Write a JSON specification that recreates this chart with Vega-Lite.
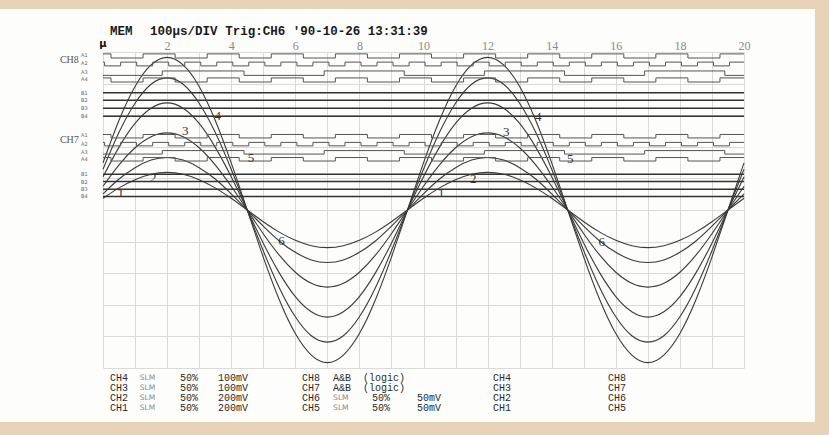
{
  "$schema": "https://vega.github.io/schema/vega-lite/v6.json",
  "width": 641,
  "height": 316,
  "autosize": {"type": "none"},
  "padding": {"left": 103, "top": 52, "right": 85, "bottom": 67},
  "background": "#fdfdfb",
  "config": {"view": {"stroke": null}},
  "resolve": {"axis": {"x": "independent", "y": "independent"}},
  "datasets": {
    "sine": [
      {"s":1,"x":0,"y":0.37},{"s":1,"x":0.5,"y":0.7},{"s":1,"x":1,"y":0.96},{"s":1,"x":1.5,"y":1.13},{"s":1,"x":2,"y":1.19},{"s":1,"x":2.5,"y":1.13},{"s":1,"x":3,"y":0.96},{"s":1,"x":3.5,"y":0.7},{"s":1,"x":4,"y":0.37},{"s":1,"x":4.5,"y":0},{"s":1,"x":5,"y":-0.37},{"s":1,"x":5.5,"y":-0.7},{"s":1,"x":6,"y":-0.96},{"s":1,"x":6.5,"y":-1.13},{"s":1,"x":7,"y":-1.19},{"s":1,"x":7.5,"y":-1.13},{"s":1,"x":8,"y":-0.96},{"s":1,"x":8.5,"y":-0.7},{"s":1,"x":9,"y":-0.37},{"s":1,"x":9.5,"y":0},
      {"s":1,"x":10,"y":0.37},{"s":1,"x":10.5,"y":0.7},{"s":1,"x":11,"y":0.96},{"s":1,"x":11.5,"y":1.13},{"s":1,"x":12,"y":1.19},{"s":1,"x":12.5,"y":1.13},{"s":1,"x":13,"y":0.96},{"s":1,"x":13.5,"y":0.7},{"s":1,"x":14,"y":0.37},{"s":1,"x":14.5,"y":0},{"s":1,"x":15,"y":-0.37},{"s":1,"x":15.5,"y":-0.7},{"s":1,"x":16,"y":-0.96},{"s":1,"x":16.5,"y":-1.13},{"s":1,"x":17,"y":-1.19},{"s":1,"x":17.5,"y":-1.13},{"s":1,"x":18,"y":-0.96},{"s":1,"x":18.5,"y":-0.7},{"s":1,"x":19,"y":-0.37},{"s":1,"x":19.5,"y":0},{"s":1,"x":20,"y":0.37},
      {"s":2,"x":0,"y":0.51},{"s":2,"x":0.5,"y":0.98},{"s":2,"x":1,"y":1.34},{"s":2,"x":1.5,"y":1.58},{"s":2,"x":2,"y":1.66},{"s":2,"x":2.5,"y":1.58},{"s":2,"x":3,"y":1.34},{"s":2,"x":3.5,"y":0.98},{"s":2,"x":4,"y":0.51},{"s":2,"x":4.5,"y":0},{"s":2,"x":5,"y":-0.51},{"s":2,"x":5.5,"y":-0.98},{"s":2,"x":6,"y":-1.34},{"s":2,"x":6.5,"y":-1.58},{"s":2,"x":7,"y":-1.66},{"s":2,"x":7.5,"y":-1.58},{"s":2,"x":8,"y":-1.34},{"s":2,"x":8.5,"y":-0.98},{"s":2,"x":9,"y":-0.51},{"s":2,"x":9.5,"y":0},
      {"s":2,"x":10,"y":0.51},{"s":2,"x":10.5,"y":0.98},{"s":2,"x":11,"y":1.34},{"s":2,"x":11.5,"y":1.58},{"s":2,"x":12,"y":1.66},{"s":2,"x":12.5,"y":1.58},{"s":2,"x":13,"y":1.34},{"s":2,"x":13.5,"y":0.98},{"s":2,"x":14,"y":0.51},{"s":2,"x":14.5,"y":0},{"s":2,"x":15,"y":-0.51},{"s":2,"x":15.5,"y":-0.98},{"s":2,"x":16,"y":-1.34},{"s":2,"x":16.5,"y":-1.58},{"s":2,"x":17,"y":-1.66},{"s":2,"x":17.5,"y":-1.58},{"s":2,"x":18,"y":-1.34},{"s":2,"x":18.5,"y":-0.98},{"s":2,"x":19,"y":-0.51},{"s":2,"x":19.5,"y":0},{"s":2,"x":20,"y":0.51},
      {"s":3,"x":0,"y":0.75},{"s":3,"x":0.5,"y":1.43},{"s":3,"x":1,"y":1.97},{"s":3,"x":1.5,"y":2.32},{"s":3,"x":2,"y":2.44},{"s":3,"x":2.5,"y":2.32},{"s":3,"x":3,"y":1.97},{"s":3,"x":3.5,"y":1.43},{"s":3,"x":4,"y":0.75},{"s":3,"x":4.5,"y":0},{"s":3,"x":5,"y":-0.75},{"s":3,"x":5.5,"y":-1.43},{"s":3,"x":6,"y":-1.97},{"s":3,"x":6.5,"y":-2.32},{"s":3,"x":7,"y":-2.44},{"s":3,"x":7.5,"y":-2.32},{"s":3,"x":8,"y":-1.97},{"s":3,"x":8.5,"y":-1.43},{"s":3,"x":9,"y":-0.75},{"s":3,"x":9.5,"y":0},
      {"s":3,"x":10,"y":0.75},{"s":3,"x":10.5,"y":1.43},{"s":3,"x":11,"y":1.97},{"s":3,"x":11.5,"y":2.32},{"s":3,"x":12,"y":2.44},{"s":3,"x":12.5,"y":2.32},{"s":3,"x":13,"y":1.97},{"s":3,"x":13.5,"y":1.43},{"s":3,"x":14,"y":0.75},{"s":3,"x":14.5,"y":0},{"s":3,"x":15,"y":-0.75},{"s":3,"x":15.5,"y":-1.43},{"s":3,"x":16,"y":-1.97},{"s":3,"x":16.5,"y":-2.32},{"s":3,"x":17,"y":-2.44},{"s":3,"x":17.5,"y":-2.32},{"s":3,"x":18,"y":-1.97},{"s":3,"x":18.5,"y":-1.43},{"s":3,"x":19,"y":-0.75},{"s":3,"x":19.5,"y":0},{"s":3,"x":20,"y":0.75},
      {"s":4,"x":0,"y":1.05},{"s":4,"x":0.5,"y":1.99},{"s":4,"x":1,"y":2.74},{"s":4,"x":1.5,"y":3.22},{"s":4,"x":2,"y":3.39},{"s":4,"x":2.5,"y":3.22},{"s":4,"x":3,"y":2.74},{"s":4,"x":3.5,"y":1.99},{"s":4,"x":4,"y":1.05},{"s":4,"x":4.5,"y":0},{"s":4,"x":5,"y":-1.05},{"s":4,"x":5.5,"y":-1.99},{"s":4,"x":6,"y":-2.74},{"s":4,"x":6.5,"y":-3.22},{"s":4,"x":7,"y":-3.39},{"s":4,"x":7.5,"y":-3.22},{"s":4,"x":8,"y":-2.74},{"s":4,"x":8.5,"y":-1.99},{"s":4,"x":9,"y":-1.05},{"s":4,"x":9.5,"y":0},
      {"s":4,"x":10,"y":1.05},{"s":4,"x":10.5,"y":1.99},{"s":4,"x":11,"y":2.74},{"s":4,"x":11.5,"y":3.22},{"s":4,"x":12,"y":3.39},{"s":4,"x":12.5,"y":3.22},{"s":4,"x":13,"y":2.74},{"s":4,"x":13.5,"y":1.99},{"s":4,"x":14,"y":1.05},{"s":4,"x":14.5,"y":0},{"s":4,"x":15,"y":-1.05},{"s":4,"x":15.5,"y":-1.99},{"s":4,"x":16,"y":-2.74},{"s":4,"x":16.5,"y":-3.22},{"s":4,"x":17,"y":-3.39},{"s":4,"x":17.5,"y":-3.22},{"s":4,"x":18,"y":-2.74},{"s":4,"x":18.5,"y":-1.99},{"s":4,"x":19,"y":-1.05},{"s":4,"x":19.5,"y":0},{"s":4,"x":20,"y":1.05},
      {"s":5,"x":0,"y":1.29},{"s":5,"x":0.5,"y":2.46},{"s":5,"x":1,"y":3.38},{"s":5,"x":1.5,"y":3.98},{"s":5,"x":2,"y":4.18},{"s":5,"x":2.5,"y":3.98},{"s":5,"x":3,"y":3.38},{"s":5,"x":3.5,"y":2.46},{"s":5,"x":4,"y":1.29},{"s":5,"x":4.5,"y":0},{"s":5,"x":5,"y":-1.29},{"s":5,"x":5.5,"y":-2.46},{"s":5,"x":6,"y":-3.38},{"s":5,"x":6.5,"y":-3.98},{"s":5,"x":7,"y":-4.18},{"s":5,"x":7.5,"y":-3.98},{"s":5,"x":8,"y":-3.38},{"s":5,"x":8.5,"y":-2.46},{"s":5,"x":9,"y":-1.29},{"s":5,"x":9.5,"y":0},
      {"s":5,"x":10,"y":1.29},{"s":5,"x":10.5,"y":2.46},{"s":5,"x":11,"y":3.38},{"s":5,"x":11.5,"y":3.98},{"s":5,"x":12,"y":4.18},{"s":5,"x":12.5,"y":3.98},{"s":5,"x":13,"y":3.38},{"s":5,"x":13.5,"y":2.46},{"s":5,"x":14,"y":1.29},{"s":5,"x":14.5,"y":0},{"s":5,"x":15,"y":-1.29},{"s":5,"x":15.5,"y":-2.46},{"s":5,"x":16,"y":-3.38},{"s":5,"x":16.5,"y":-3.98},{"s":5,"x":17,"y":-4.18},{"s":5,"x":17.5,"y":-3.98},{"s":5,"x":18,"y":-3.38},{"s":5,"x":18.5,"y":-2.46},{"s":5,"x":19,"y":-1.29},{"s":5,"x":19.5,"y":0},{"s":5,"x":20,"y":1.29},
      {"s":6,"x":0,"y":1.49},{"s":6,"x":0.5,"y":2.84},{"s":6,"x":1,"y":3.91},{"s":6,"x":1.5,"y":4.59},{"s":6,"x":2,"y":4.83},{"s":6,"x":2.5,"y":4.59},{"s":6,"x":3,"y":3.91},{"s":6,"x":3.5,"y":2.84},{"s":6,"x":4,"y":1.49},{"s":6,"x":4.5,"y":0},{"s":6,"x":5,"y":-1.49},{"s":6,"x":5.5,"y":-2.84},{"s":6,"x":6,"y":-3.91},{"s":6,"x":6.5,"y":-4.59},{"s":6,"x":7,"y":-4.83},{"s":6,"x":7.5,"y":-4.59},{"s":6,"x":8,"y":-3.91},{"s":6,"x":8.5,"y":-2.84},{"s":6,"x":9,"y":-1.49},{"s":6,"x":9.5,"y":0},
      {"s":6,"x":10,"y":1.49},{"s":6,"x":10.5,"y":2.84},{"s":6,"x":11,"y":3.91},{"s":6,"x":11.5,"y":4.59},{"s":6,"x":12,"y":4.83},{"s":6,"x":12.5,"y":4.59},{"s":6,"x":13,"y":3.91},{"s":6,"x":13.5,"y":2.84},{"s":6,"x":14,"y":1.49},{"s":6,"x":14.5,"y":0},{"s":6,"x":15,"y":-1.49},{"s":6,"x":15.5,"y":-2.84},{"s":6,"x":16,"y":-3.91},{"s":6,"x":16.5,"y":-4.59},{"s":6,"x":17,"y":-4.83},{"s":6,"x":17.5,"y":-4.59},{"s":6,"x":18,"y":-3.91},{"s":6,"x":18.5,"y":-2.84},{"s":6,"x":19,"y":-1.49},{"s":6,"x":19.5,"y":0},{"s":6,"x":20,"y":1.49}
    ],
    "logic": [
      {"t":"8A1","x":0,"y":4.94},{"t":"8A1","x":0.25,"y":4.81},{"t":"8A1","x":1.25,"y":4.94},{"t":"8A1","x":2.25,"y":4.81},{"t":"8A1","x":3.25,"y":4.94},{"t":"8A1","x":4.25,"y":4.81},{"t":"8A1","x":5.25,"y":4.94},{"t":"8A1","x":6.25,"y":4.81},{"t":"8A1","x":7.25,"y":4.94},{"t":"8A1","x":8.25,"y":4.81},{"t":"8A1","x":9.25,"y":4.94},{"t":"8A1","x":10.25,"y":4.81},{"t":"8A1","x":11.25,"y":4.94},{"t":"8A1","x":12.25,"y":4.81},{"t":"8A1","x":13.25,"y":4.94},{"t":"8A1","x":14.25,"y":4.81},{"t":"8A1","x":15.25,"y":4.94},{"t":"8A1","x":16.25,"y":4.81},{"t":"8A1","x":17.25,"y":4.94},{"t":"8A1","x":18.25,"y":4.81},{"t":"8A1","x":19.25,"y":4.94},{"t":"8A1","x":20,"y":4.94},
      {"t":"8A2","x":0,"y":4.68},{"t":"8A2","x":0.05,"y":4.56},{"t":"8A2","x":0.55,"y":4.68},{"t":"8A2","x":1.05,"y":4.56},{"t":"8A2","x":1.55,"y":4.68},{"t":"8A2","x":2.05,"y":4.56},{"t":"8A2","x":2.55,"y":4.68},{"t":"8A2","x":3.05,"y":4.56},{"t":"8A2","x":3.55,"y":4.68},{"t":"8A2","x":4.05,"y":4.56},{"t":"8A2","x":4.55,"y":4.68},{"t":"8A2","x":5.05,"y":4.56},{"t":"8A2","x":5.55,"y":4.68},{"t":"8A2","x":6.05,"y":4.56},{"t":"8A2","x":6.55,"y":4.68},{"t":"8A2","x":7.05,"y":4.56},{"t":"8A2","x":7.55,"y":4.68},{"t":"8A2","x":8.05,"y":4.56},{"t":"8A2","x":8.55,"y":4.68},{"t":"8A2","x":9.05,"y":4.56},{"t":"8A2","x":9.55,"y":4.68},{"t":"8A2","x":10.05,"y":4.56},{"t":"8A2","x":10.55,"y":4.68},{"t":"8A2","x":11.05,"y":4.56},{"t":"8A2","x":11.55,"y":4.68},{"t":"8A2","x":12.05,"y":4.56},{"t":"8A2","x":12.55,"y":4.68},{"t":"8A2","x":13.05,"y":4.56},{"t":"8A2","x":13.55,"y":4.68},{"t":"8A2","x":14.05,"y":4.56},{"t":"8A2","x":14.55,"y":4.68},{"t":"8A2","x":15.05,"y":4.56},{"t":"8A2","x":15.55,"y":4.68},{"t":"8A2","x":16.05,"y":4.56},{"t":"8A2","x":16.55,"y":4.68},{"t":"8A2","x":17.05,"y":4.56},{"t":"8A2","x":17.55,"y":4.68},{"t":"8A2","x":18.05,"y":4.56},{"t":"8A2","x":18.55,"y":4.68},{"t":"8A2","x":19.05,"y":4.56},{"t":"8A2","x":19.55,"y":4.68},{"t":"8A2","x":20,"y":4.68},
      {"t":"8A3","x":0,"y":4.26},{"t":"8A3","x":1.85,"y":4.4},{"t":"8A3","x":4.4,"y":4.26},{"t":"8A3","x":6.9,"y":4.4},{"t":"8A3","x":9.4,"y":4.26},{"t":"8A3","x":11.9,"y":4.4},{"t":"8A3","x":14.4,"y":4.26},{"t":"8A3","x":16.9,"y":4.4},{"t":"8A3","x":19.4,"y":4.26},{"t":"8A3","x":20,"y":4.26},
      {"t":"8A4","x":0,"y":4.18},{"t":"8A4","x":0.25,"y":4.05},{"t":"8A4","x":1.25,"y":4.18},{"t":"8A4","x":2.25,"y":4.05},{"t":"8A4","x":3.25,"y":4.18},{"t":"8A4","x":4.25,"y":4.05},{"t":"8A4","x":5.25,"y":4.18},{"t":"8A4","x":6.25,"y":4.05},{"t":"8A4","x":7.25,"y":4.18},{"t":"8A4","x":8.25,"y":4.05},{"t":"8A4","x":9.25,"y":4.18},{"t":"8A4","x":10.25,"y":4.05},{"t":"8A4","x":11.25,"y":4.18},{"t":"8A4","x":12.25,"y":4.05},{"t":"8A4","x":13.25,"y":4.18},{"t":"8A4","x":14.25,"y":4.05},{"t":"8A4","x":15.25,"y":4.18},{"t":"8A4","x":16.25,"y":4.05},{"t":"8A4","x":17.25,"y":4.18},{"t":"8A4","x":18.25,"y":4.05},{"t":"8A4","x":19.25,"y":4.18},{"t":"8A4","x":20,"y":4.18},
      {"t":"7A1","x":0,"y":2.39},{"t":"7A1","x":0.25,"y":2.28},{"t":"7A1","x":1.25,"y":2.39},{"t":"7A1","x":2.25,"y":2.28},{"t":"7A1","x":3.25,"y":2.39},{"t":"7A1","x":4.25,"y":2.28},{"t":"7A1","x":5.25,"y":2.39},{"t":"7A1","x":6.25,"y":2.28},{"t":"7A1","x":7.25,"y":2.39},{"t":"7A1","x":8.25,"y":2.28},{"t":"7A1","x":9.25,"y":2.39},{"t":"7A1","x":10.25,"y":2.28},{"t":"7A1","x":11.25,"y":2.39},{"t":"7A1","x":12.25,"y":2.28},{"t":"7A1","x":13.25,"y":2.39},{"t":"7A1","x":14.25,"y":2.28},{"t":"7A1","x":15.25,"y":2.39},{"t":"7A1","x":16.25,"y":2.28},{"t":"7A1","x":17.25,"y":2.39},{"t":"7A1","x":18.25,"y":2.28},{"t":"7A1","x":19.25,"y":2.39},{"t":"7A1","x":20,"y":2.39},
      {"t":"7A2","x":0,"y":2.14},{"t":"7A2","x":0.05,"y":2.03},{"t":"7A2","x":0.55,"y":2.14},{"t":"7A2","x":1.05,"y":2.03},{"t":"7A2","x":1.55,"y":2.14},{"t":"7A2","x":2.05,"y":2.03},{"t":"7A2","x":2.55,"y":2.14},{"t":"7A2","x":3.05,"y":2.03},{"t":"7A2","x":3.55,"y":2.14},{"t":"7A2","x":4.05,"y":2.03},{"t":"7A2","x":4.55,"y":2.14},{"t":"7A2","x":5.05,"y":2.03},{"t":"7A2","x":5.55,"y":2.14},{"t":"7A2","x":6.05,"y":2.03},{"t":"7A2","x":6.55,"y":2.14},{"t":"7A2","x":7.05,"y":2.03},{"t":"7A2","x":7.55,"y":2.14},{"t":"7A2","x":8.05,"y":2.03},{"t":"7A2","x":8.55,"y":2.14},{"t":"7A2","x":9.05,"y":2.03},{"t":"7A2","x":9.55,"y":2.14},{"t":"7A2","x":10.05,"y":2.03},{"t":"7A2","x":10.55,"y":2.14},{"t":"7A2","x":11.05,"y":2.03},{"t":"7A2","x":11.55,"y":2.14},{"t":"7A2","x":12.05,"y":2.03},{"t":"7A2","x":12.55,"y":2.14},{"t":"7A2","x":13.05,"y":2.03},{"t":"7A2","x":13.55,"y":2.14},{"t":"7A2","x":14.05,"y":2.03},{"t":"7A2","x":14.55,"y":2.14},{"t":"7A2","x":15.05,"y":2.03},{"t":"7A2","x":15.55,"y":2.14},{"t":"7A2","x":16.05,"y":2.03},{"t":"7A2","x":16.55,"y":2.14},{"t":"7A2","x":17.05,"y":2.03},{"t":"7A2","x":17.55,"y":2.14},{"t":"7A2","x":18.05,"y":2.03},{"t":"7A2","x":18.55,"y":2.14},{"t":"7A2","x":19.05,"y":2.03},{"t":"7A2","x":19.55,"y":2.14},{"t":"7A2","x":20,"y":2.14},
      {"t":"7A3","x":0,"y":1.77},{"t":"7A3","x":1.85,"y":1.88},{"t":"7A3","x":4.4,"y":1.77},{"t":"7A3","x":6.9,"y":1.88},{"t":"7A3","x":9.4,"y":1.77},{"t":"7A3","x":11.9,"y":1.88},{"t":"7A3","x":14.4,"y":1.77},{"t":"7A3","x":16.9,"y":1.88},{"t":"7A3","x":19.4,"y":1.77},{"t":"7A3","x":20,"y":1.77},
      {"t":"7A4","x":0,"y":1.66},{"t":"7A4","x":0.25,"y":1.55},{"t":"7A4","x":1.25,"y":1.66},{"t":"7A4","x":2.25,"y":1.55},{"t":"7A4","x":3.25,"y":1.66},{"t":"7A4","x":4.25,"y":1.55},{"t":"7A4","x":5.25,"y":1.66},{"t":"7A4","x":6.25,"y":1.55},{"t":"7A4","x":7.25,"y":1.66},{"t":"7A4","x":8.25,"y":1.55},{"t":"7A4","x":9.25,"y":1.66},{"t":"7A4","x":10.25,"y":1.55},{"t":"7A4","x":11.25,"y":1.66},{"t":"7A4","x":12.25,"y":1.55},{"t":"7A4","x":13.25,"y":1.66},{"t":"7A4","x":14.25,"y":1.55},{"t":"7A4","x":15.25,"y":1.66},{"t":"7A4","x":16.25,"y":1.55},{"t":"7A4","x":17.25,"y":1.66},{"t":"7A4","x":18.25,"y":1.55},{"t":"7A4","x":19.25,"y":1.66},{"t":"7A4","x":20,"y":1.66}
    ],
    "flat": [
      {"t":"8B1","x":0,"y":3.71},{"t":"8B1","x":20,"y":3.71},
      {"t":"8B2","x":0,"y":3.47},{"t":"8B2","x":20,"y":3.47},
      {"t":"8B3","x":0,"y":3.22},{"t":"8B3","x":20,"y":3.22},
      {"t":"8B4","x":0,"y":2.97},{"t":"8B4","x":20,"y":2.97},
      {"t":"7B1","x":0,"y":1.13},{"t":"7B1","x":20,"y":1.13},
      {"t":"7B2","x":0,"y":0.9},{"t":"7B2","x":20,"y":0.9},
      {"t":"7B3","x":0,"y":0.66},{"t":"7B3","x":20,"y":0.66},
      {"t":"7B4","x":0,"y":0.43},{"t":"7B4","x":20,"y":0.43}
    ],
    "curvelabels": [
      {"txt":"1","x":0.55,"y":0.54},{"txt":"2","x":1.57,"y":1.01},{"txt":"3","x":2.57,"y":2.5},{"txt":"4","x":3.58,"y":2.97},{"txt":"5","x":4.62,"y":1.65},{"txt":"6","x":5.57,"y":-0.98},
      {"txt":"1","x":10.55,"y":0.54},{"txt":"2","x":11.55,"y":0.97},{"txt":"3","x":12.58,"y":2.47},{"txt":"4","x":13.58,"y":2.94},{"txt":"5","x":14.58,"y":1.6},{"txt":"6","x":15.56,"y":-1.0}
    ],
    "chlabels": [
      {"txt":"CH8","x":-1.05,"y":4.76},{"txt":"CH7","x":-1.05,"y":2.22}
    ],
    "sublabels": [
      {"txt":"A1","x":-0.58,"y":4.9},{"txt":"A2","x":-0.58,"y":4.64},{"txt":"A3","x":-0.58,"y":4.36},{"txt":"A4","x":-0.58,"y":4.13},
      {"txt":"B1","x":-0.58,"y":3.71},{"txt":"B2","x":-0.58,"y":3.47},{"txt":"B3","x":-0.58,"y":3.22},{"txt":"B4","x":-0.58,"y":2.97},
      {"txt":"A1","x":-0.58,"y":2.36},{"txt":"A2","x":-0.58,"y":2.1},{"txt":"A3","x":-0.58,"y":1.84},{"txt":"A4","x":-0.58,"y":1.62},
      {"txt":"B1","x":-0.58,"y":1.13},{"txt":"B2","x":-0.58,"y":0.9},{"txt":"B3","x":-0.58,"y":0.66},{"txt":"B4","x":-0.58,"y":0.43}
    ],
    "footer": [
      {"txt":"CH4","x":0.22,"y":-5.32},{"txt":"50%","x":2.4,"y":-5.32},{"txt":"100mV","x":3.59,"y":-5.32},{"txt":"CH8","x":6.21,"y":-5.32},{"txt":"A&B","x":7.18,"y":-5.32},{"txt":"(logic)","x":8.11,"y":-5.32},{"txt":"CH4","x":12.17,"y":-5.32},{"txt":"CH8","x":15.76,"y":-5.32},
      {"txt":"CH3","x":0.22,"y":-5.63},{"txt":"50%","x":2.4,"y":-5.63},{"txt":"100mV","x":3.59,"y":-5.63},{"txt":"CH7","x":6.21,"y":-5.63},{"txt":"A&B","x":7.18,"y":-5.63},{"txt":"(logic)","x":8.11,"y":-5.63},{"txt":"CH3","x":12.17,"y":-5.63},{"txt":"CH7","x":15.76,"y":-5.63},
      {"txt":"CH2","x":0.22,"y":-5.95},{"txt":"50%","x":2.4,"y":-5.95},{"txt":"200mV","x":3.59,"y":-5.95},{"txt":"CH6","x":6.21,"y":-5.95},{"txt":"50%","x":8.39,"y":-5.95},{"txt":"50mV","x":9.8,"y":-5.95},{"txt":"CH2","x":12.17,"y":-5.95},{"txt":"CH6","x":15.76,"y":-5.95},
      {"txt":"CH1","x":0.22,"y":-6.27},{"txt":"50%","x":2.4,"y":-6.27},{"txt":"200mV","x":3.59,"y":-6.27},{"txt":"CH5","x":6.21,"y":-6.27},{"txt":"50%","x":8.39,"y":-6.27},{"txt":"50mV","x":9.8,"y":-6.27},{"txt":"CH1","x":12.17,"y":-6.27},{"txt":"CH5","x":15.76,"y":-6.27}
    ],
    "slm": [
      {"txt":"SLM","x":1.15,"y":-5.32},{"txt":"SLM","x":1.15,"y":-5.63},{"txt":"SLM","x":1.15,"y":-5.95},{"txt":"SLM","x":1.15,"y":-6.27},
      {"txt":"SLM","x":7.18,"y":-5.95},{"txt":"SLM","x":7.18,"y":-6.27}
    ],
    "header": [
      {"txt":"MEM","x":0.22,"y":5.68},
      {"txt":"100μs/DIV Trig:CH6 '90-10-26 13:31:39","x":1.47,"y":5.68}
    ],
    "marker": [
      {"txt":"μ","x":0,"y":5.25}
    ]
  },
  "layer": [
    {
      "data": {"values": [{"k": 1}]},
      "mark": {"type": "rect", "filled": false, "color": "#e8d3b9", "strokeWidth": 30},
      "encoding": {
        "x": {"datum": -4.5, "type": "quantitative", "axis": null},
        "x2": {"datum": 22.68},
        "y": {"datum": 6.835, "type": "quantitative", "axis": null},
        "y2": {"datum": -7.18}
      }
    },
    {
      "encoding": {
        "x": {
          "field": "x", "type": "quantitative",
          "scale": {"domain": [0, 20], "nice": false, "zero": false},
          "axis": {
            "orient": "top", "title": null,
            "values": [0,1,2,3,4,5,6,7,8,9,10,11,12,13,14,15,16,17,18,19,20],
            "grid": true, "gridColor": "#dadada", "gridWidth": 1,
            "domain": false, "ticks": false,
            "labelExpr": "datum.value > 0 && datum.value % 2 == 0 ? datum.label : ''",
            "labelFont": "Liberation Serif", "labelFontSize": 12, "labelColor": "#8a8a8a",
            "labelPadding": 3, "labelBaseline": "alphabetic", "labelFlush": false, "labelOverlap": false
          }
        },
        "y": {
          "field": "y", "type": "quantitative",
          "scale": {"domain": [-5, 5], "nice": false, "zero": false},
          "axis": {
            "title": null, "values": [-5,-4,-3,-2,-1,0,1,2,3,4,5],
            "grid": true, "gridColor": "#dadada", "gridWidth": 1,
            "labels": false, "ticks": false, "domain": false
          }
        }
      },
      "layer": [
        {
          "data": {"name": "sine"},
          "mark": {"type": "line", "interpolate": "natural", "stroke": "#3a3a3a", "strokeWidth": 1.1},
          "encoding": {"detail": {"field": "s"}}
        },
        {
          "data": {"name": "logic"},
          "mark": {"type": "line", "interpolate": "step-after", "stroke": "#555555", "strokeWidth": 1},
          "encoding": {"detail": {"field": "t"}}
        },
        {
          "data": {"name": "flat"},
          "mark": {"type": "line", "stroke": "#333333", "strokeWidth": 1.5},
          "encoding": {"detail": {"field": "t"}}
        },
        {
          "data": {"name": "curvelabels"},
          "mark": {"type": "text", "font": "Liberation Serif", "fontSize": 13, "fill": "#333333", "baseline": "middle", "align": "center"},
          "encoding": {"text": {"field": "txt"}}
        },
        {
          "data": {"name": "chlabels"},
          "mark": {"type": "text", "font": "Liberation Serif", "fontSize": 10, "fill": "#555555", "baseline": "middle", "align": "center"},
          "encoding": {"text": {"field": "txt"}}
        },
        {
          "data": {"name": "sublabels"},
          "mark": {"type": "text", "font": "DejaVu Sans", "fontSize": 5, "fill": "#666666", "baseline": "middle", "align": "center"},
          "encoding": {"text": {"field": "txt"}}
        },
        {
          "data": {"name": "footer"},
          "mark": {"type": "text", "font": "Liberation Mono", "fontSize": 10, "fill": "#2a2a2a", "baseline": "middle", "align": "left"},
          "encoding": {"text": {"field": "txt"}}
        },
        {
          "data": {"name": "slm"},
          "mark": {"type": "text", "font": "DejaVu Sans", "fontSize": 7.5, "fill": "#8a8a8a", "baseline": "middle", "align": "left"},
          "encoding": {"text": {"field": "txt"}}
        },
        {
          "data": {"name": "header"},
          "mark": {"type": "text", "font": "Liberation Mono", "fontSize": 12.5, "fontWeight": "bold", "fill": "#1a1a1a", "baseline": "middle", "align": "left"},
          "encoding": {"text": {"field": "txt"}}
        },
        {
          "data": {"name": "marker"},
          "mark": {"type": "text", "font": "DejaVu Sans", "fontSize": 10, "fontWeight": "bold", "fill": "#111111", "baseline": "middle", "align": "center"},
          "encoding": {"text": {"field": "txt"}}
        }
      ]
    }
  ]
}
